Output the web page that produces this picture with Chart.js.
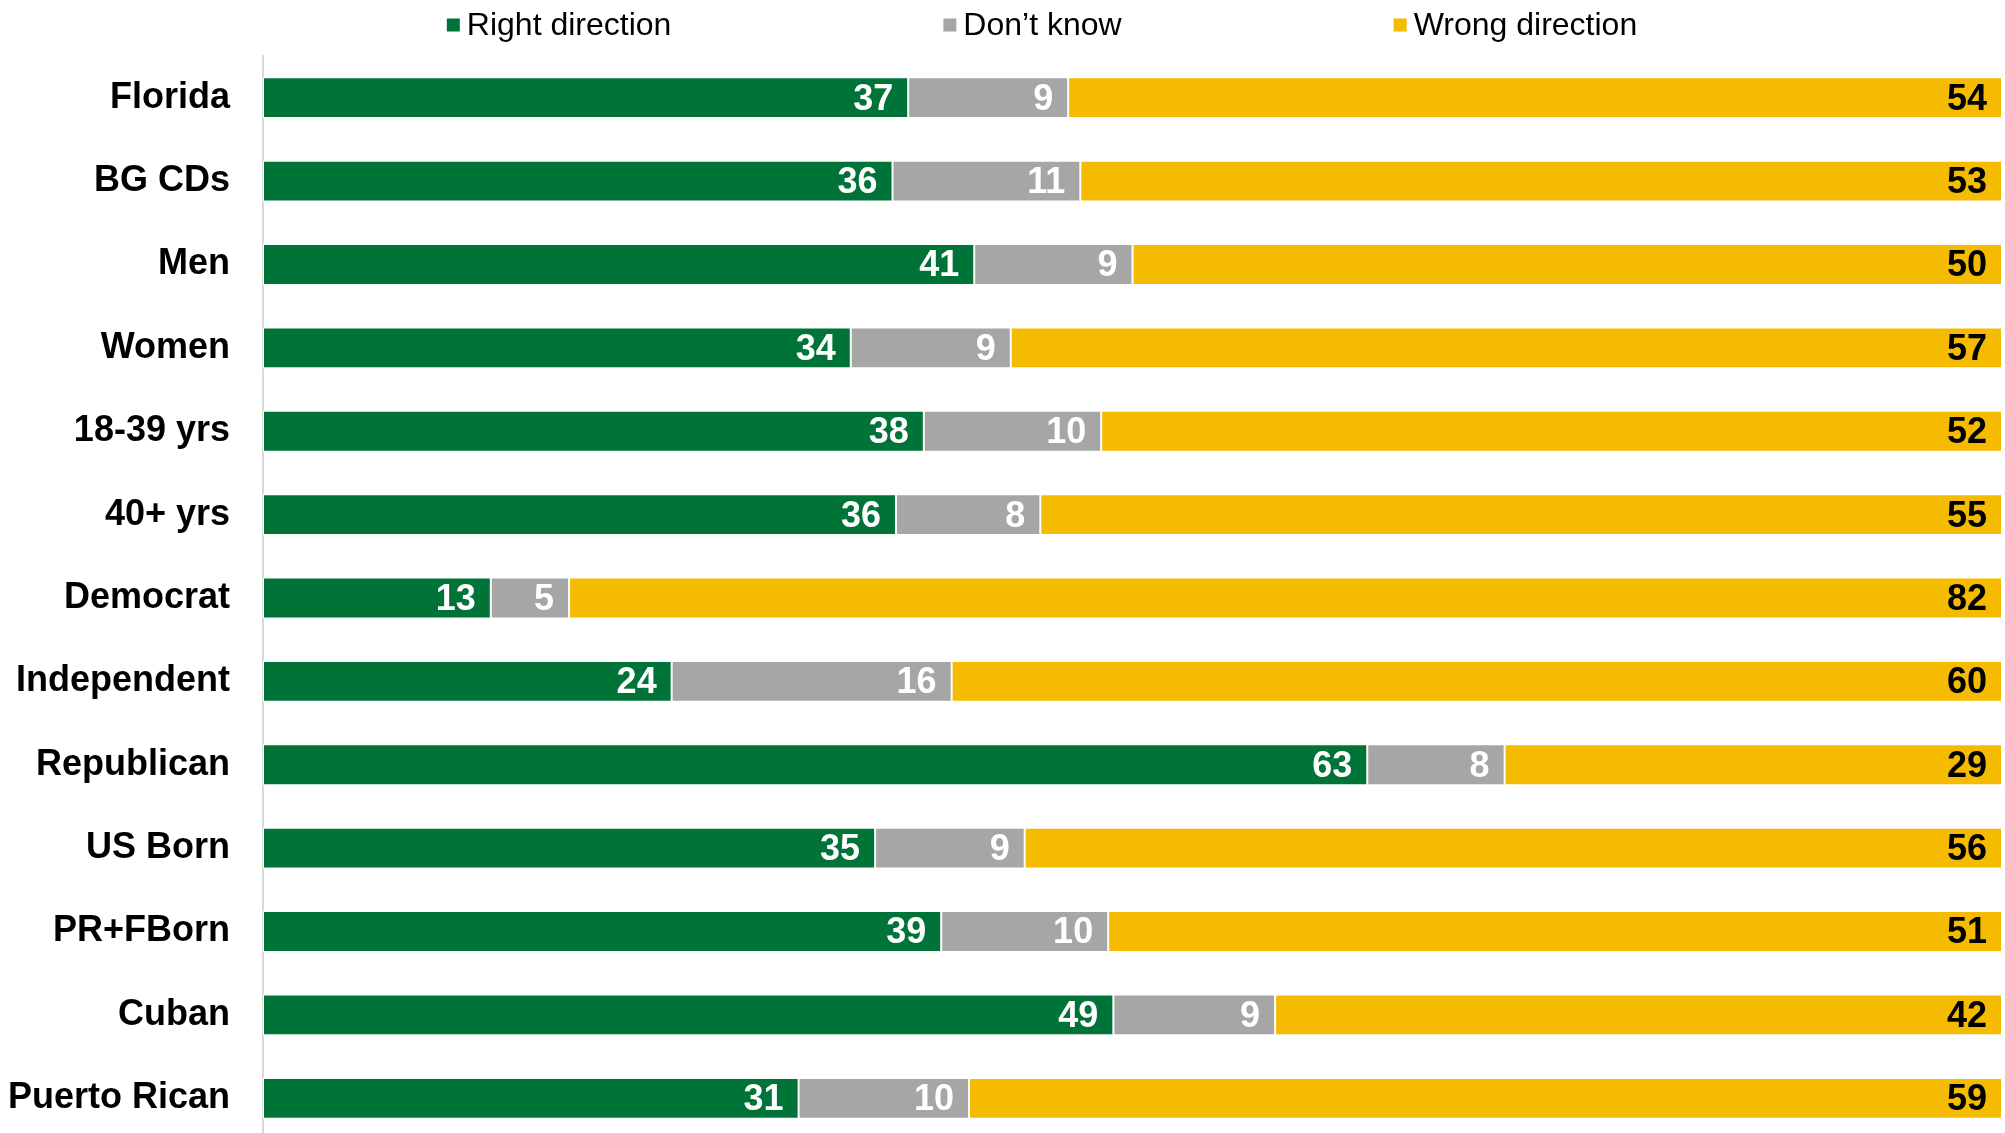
<!DOCTYPE html>
<html>
<head>
<meta charset="utf-8">
<script src="https://cdn.jsdelivr.net/npm/chart.js@4"></script>
<style>
    html, body { margin: 0; padding: 0; background: #fff; overflow: hidden; }
    #wrap { width: 2005px; height: 1133px; overflow: hidden; }
    canvas { display: block; }
</style>
</head>
<body>
<div id="wrap"><canvas id="directionChart" width="2005" height="1140"></canvas></div>
<script>
const categories = ['Florida', 'BG CDs', 'Men', 'Women', '18-39 yrs', '40+ yrs', 'Democrat',
    'Independent', 'Republican', 'US Born', 'PR+FBorn', 'Cuban', 'Puerto Rican'];
const seriesNames = ['Right direction', 'Don\u2019t know', 'Wrong direction'];

// Segment lengths as drawn (unrounded shares)
const rightDirection = [37.1, 36.2, 40.9, 33.8, 38.0, 36.4, 13.1, 23.5, 63.5, 35.2, 39.0, 48.9, 30.8];
const dontKnow = [9.2, 10.8, 9.1, 9.2, 10.2, 8.3, 4.5, 16.1, 7.9, 8.6, 9.6, 9.3, 9.8];
const wrongDirection = [53.7, 53.0, 50.0, 57.0, 51.8, 55.3, 82.4, 60.4, 28.6, 56.2, 51.4, 41.8, 59.4];

// Printed (rounded) values
const rightLabels = [37, 36, 41, 34, 38, 36, 13, 24, 63, 35, 39, 49, 31];
const dontKnowLabels = [9, 11, 9, 9, 10, 8, 5, 16, 8, 9, 10, 9, 10];
const wrongLabels = [54, 53, 50, 57, 52, 55, 82, 60, 29, 56, 51, 42, 59];

const FONT = '"Liberation Sans", Arial, sans-serif';

// Legend row across the top
const topLegend = {
    id: 'topLegend',
    afterDraw(chart) {
        const ctx = chart.ctx;
        const box = 13, gap = 7, spacing = 272, cy = 25;
        ctx.save();
        ctx.font = '32px ' + FONT;
        ctx.textBaseline = 'middle';
        ctx.textAlign = 'left';
        const items = chart.data.datasets.map(ds => ({
            text: ds.label,
            color: ds.backgroundColor,
            w: box + gap + ctx.measureText(ds.label).width
        }));
        const total = items.reduce((s, it) => s + it.w, 0) + spacing * (items.length - 1);
        let x = 1042 - total / 2;
        items.forEach(it => {
            ctx.fillStyle = it.color;
            ctx.fillRect(x, cy - box / 2, box, box);
            ctx.fillStyle = '#000';
            ctx.fillText(it.text, x + box + gap, cy + 1);
            x += it.w + spacing;
        });
        ctx.restore();
    }
};

// Value labels, right-aligned inside each segment
const barValues = {
    id: 'barValues',
    afterDatasetsDraw(chart) {
        const ctx = chart.ctx;
        ctx.save();
        ctx.font = 'bold 36px ' + FONT;
        ctx.textAlign = 'right';
        ctx.textBaseline = 'middle';
        chart.data.datasets.forEach((ds, i) => {
            chart.getDatasetMeta(i).data.forEach((bar, j) => {
                ctx.fillStyle = ds.valueColor;
                ctx.fillText(ds.printed[j], bar.x - 15, bar.y + 2);
            });
        });
        ctx.restore();
    }
};

const data = {
    labels: categories,
    datasets: [
        { label: seriesNames[0], data: rightDirection, printed: rightLabels,
          backgroundColor: '#007438', valueColor: '#ffffff' },
        { label: seriesNames[1], data: dontKnow, printed: dontKnowLabels,
          backgroundColor: '#a6a6a6', valueColor: '#ffffff' },
        { label: seriesNames[2], data: wrongDirection, printed: wrongLabels,
          backgroundColor: '#f5bb00', valueColor: '#000000' }
    ]
};
data.datasets.forEach(ds => {
    ds.borderColor = '#ffffff';
    ds.borderWidth = 1;
    ds.borderSkipped = false;
    ds.barPercentage = 0.49;
    ds.categoryPercentage = 1;
});

new Chart(document.getElementById('directionChart'), {
    type: 'bar',
    data: data,
    options: {
        indexAxis: 'y',
        responsive: false,
        animation: false,
        layout: { padding: { top: 56, right: 3, bottom: 0, left: 0 } },
        plugins: {
            legend: { display: false },
            tooltip: { enabled: false }
        },
        scales: {
            x: { stacked: true, display: false, min: 0, max: 100 },
            y: {
                stacked: true,
                grid: { display: false },
                border: { display: true, color: '#d9d9d9', width: 2 },
                ticks: {
                    color: '#000',
                    autoSkip: false,
                    padding: 25,
                    font: { family: FONT, size: 36, weight: 'bold' }
                },
                afterFit(scale) {
                    scale.width = 263;
                    scale.paddingTop = 0;
                    scale.paddingBottom = 0;
                }
            }
        }
    },
    plugins: [topLegend, barValues]
});
</script>
</body>
</html>
